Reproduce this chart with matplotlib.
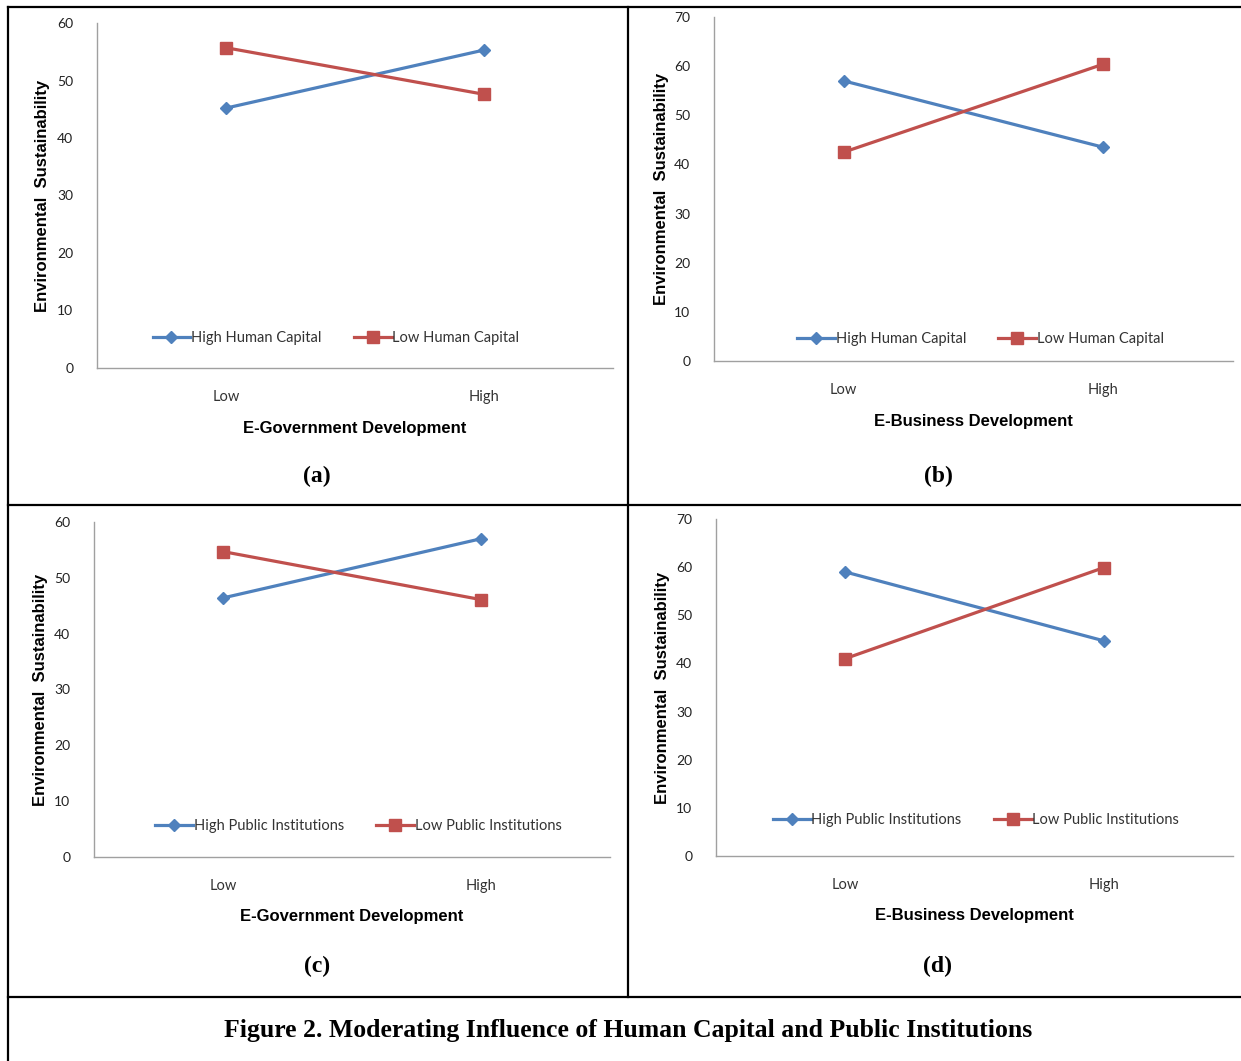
import matplotlib.pyplot as plt
from matplotlib.lines import Line2D

W, H = 1241, 1061

categories = ['Low', 'High']

# panel values
high_a = [45.2, 55.3]
low_a = [55.7, 47.6]
high_b = [57.0, 43.5]
low_b = [42.5, 60.4]
high_c = [46.4, 57.0]
low_c = [54.7, 46.1]
high_d = [59.0, 44.7]
low_d = [41.0, 59.9]

legend_hc = ['High Human Capital', 'Low Human Capital']
legend_pi = ['High Public Institutions', 'Low Public Institutions']
xlabels = ['E-Government Development', 'E-Business Development',
           'E-Government Development', 'E-Business Development']
letters = ['(a)', '(b)', '(c)', '(d)']
ymax = [60, 70, 60, 70]

BLUE = '#4F81BD'
RED = '#C0504D'
TICKFONT = 'Lato'
LABFONT = 'Liberation Sans'

# axes boxes in pixels: left, right, top, bottom
boxes = [(97, 613, 23, 368), (714, 1233, 17, 361),
         (94, 610, 522, 857), (716, 1233, 519, 856)]
ylab_x = [-0.091, -0.087, -0.090, -0.089]
xlab_y = [-0.154, -0.154, -0.156, -0.155]
leg_pos = [(0.463, 0.087), (0.514, 0.064), (0.512, 0.093), (0.503, 0.107)]
letter_pos = [(317, 476), (938, 476), (317, 966), (938, 966)]

series = [(high_a, low_a, legend_hc), (high_b, low_b, legend_hc),
          (high_c, low_c, legend_pi), (high_d, low_d, legend_pi)]

fig = plt.figure(figsize=(W / 100, H / 100), dpi=100)

for i, (hi, lo, names) in enumerate(series):
    l, r, t, b = boxes[i]
    ax = fig.add_axes([l / W, 1 - b / H, (r - l) / W, (b - t) / H])
    x = list(range(len(categories)))
    ax.plot(x, hi, color=BLUE, lw=2.3, marker='D', ms=6.5, label=names[0])
    ax.plot(x, lo, color=RED, lw=2.3, marker='s', ms=8, label=names[1])
    ax.set_xlim(-0.5, 1.5)
    ax.set_ylim(0, ymax[i])
    ax.set_yticks(range(0, ymax[i] + 1, 10))
    ax.set_xticks(x)
    ax.set_xticklabels(categories, fontfamily=TICKFONT, fontsize=10.5, color='#333333')
    for lab in ax.get_yticklabels():
        lab.set_fontfamily(TICKFONT)
        lab.set_fontsize(10)
        lab.set_color('#222222')
    ax.tick_params(axis='y', length=0, pad=17)
    ax.tick_params(axis='x', length=0, pad=16)
    for s in ['top', 'right']:
        ax.spines[s].set_visible(False)
    for s in ['left', 'bottom']:
        ax.spines[s].set_color('#A0A0A0')
        ax.spines[s].set_linewidth(1.0)
    ax.set_ylabel('Environmental  Sustainability', fontfamily=LABFONT,
                  fontweight='bold', fontsize=12)
    ax.yaxis.set_label_coords(ylab_x[i], 0.5)
    ax.set_xlabel(xlabels[i], fontfamily=LABFONT, fontweight='bold', fontsize=12)
    ax.xaxis.set_label_coords(0.5, xlab_y[i])
    leg = ax.legend(loc='center', bbox_to_anchor=leg_pos[i], ncol=2, frameon=False,
                    handlelength=2.6, handletextpad=0.05, columnspacing=2.2,
                    prop={'family': TICKFONT, 'size': 10.5})
    for txt in leg.get_texts():
        txt.set_color('#333333')
    lx, ly = letter_pos[i]
    fig.text(lx / W, 1 - ly / H, letters[i], ha='center', va='center',
             fontfamily='Liberation Serif', fontweight='bold', fontsize=17)

fig.text(628 / W, 1 - 1031 / H,
         'Figure 2. Moderating Influence of Human Capital and Public Institutions',
         ha='center', va='center', fontfamily='Liberation Serif',
         fontweight='bold', fontsize=18.5)

# table borders
borders = [((8, 1241), (7, 7)), ((8, 8), (7, 1061)), ((628, 628), (7, 997)),
           ((8, 1241), (505, 505)), ((8, 1241), (997, 997))]
for xs, ys in borders:
    fig.add_artist(Line2D([v / W for v in xs], [1 - v / H for v in ys],
                          transform=fig.transFigure, color='black', lw=1.6))

fig.savefig('out.png', dpi=100)
